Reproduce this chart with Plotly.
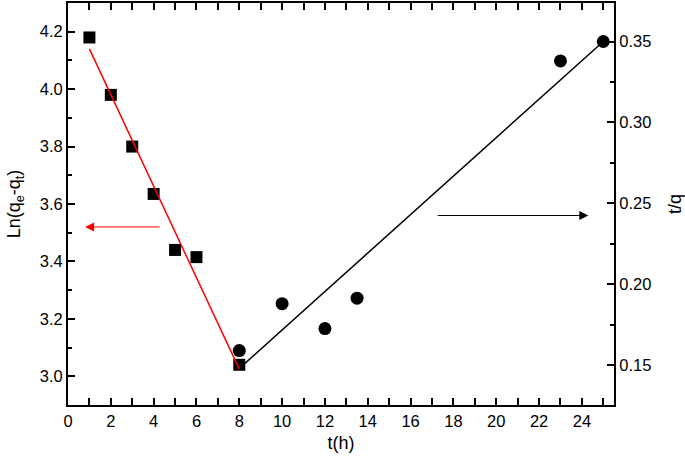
import plotly.graph_objects as go

# Pseudo-first-order data (left axis)
t_ln = [1, 2, 3, 4, 5, 6, 8]
ln_qe_qt = [4.18, 3.98, 3.80, 3.635, 3.44, 3.415, 3.04]
fit_ln_t = [1, 8]
fit_ln_y = [4.14, 3.025]

# Pseudo-second-order data (right axis)
t_q = [8, 10, 12, 13.5, 23, 25]
t_over_q = [0.159, 0.188, 0.1726, 0.1914, 0.338, 0.35]
fit_tq_t = [8, 25]
fit_tq_y = [0.148, 0.35]

FONT = "Liberation Sans, Arial, sans-serif"

fig = go.Figure()

fig.add_trace(go.Scatter(
    x=t_ln, y=ln_qe_qt, mode="markers",
    marker=dict(symbol="square", size=12, color="black"),
    showlegend=False,
))
fig.add_trace(go.Scatter(
    x=fit_ln_t, y=fit_ln_y, mode="lines",
    line=dict(color="red", width=1.5), showlegend=False,
))
fig.add_trace(go.Scatter(
    x=t_q, y=t_over_q, mode="markers", yaxis="y2",
    marker=dict(symbol="circle", size=13, color="black"),
    showlegend=False,
))
fig.add_trace(go.Scatter(
    x=fit_tq_t, y=fit_tq_y, mode="lines", yaxis="y2",
    line=dict(color="black", width=1.5), showlegend=False,
))

# arrows pointing to the relevant axis
fig.add_annotation(x=0.8, y=3.52, ax=4.35, ay=3.52, xref="x", yref="y",
                   axref="x", ayref="y", text="", showarrow=True,
                   arrowhead=2, arrowsize=1.8, arrowwidth=1, arrowcolor="red")
fig.add_annotation(x=24.3, y=3.56, ax=17.2, ay=3.56, xref="x", yref="y",
                   axref="x", ayref="y", text="", showarrow=True,
                   arrowhead=2, arrowsize=1.8, arrowwidth=1, arrowcolor="black")

axis_common = dict(
    showline=True, linecolor="black", linewidth=2,
    showgrid=False, zeroline=False, automargin=False,
    ticks="inside", ticklen=7, tickwidth=1.5, tickcolor="black",
    tickfont=dict(family=FONT, size=16.5, color="black"),
)

fig.update_layout(
    width=685, height=463,
    margin=dict(l=68, r=71, t=3, b=58),
    paper_bgcolor="white", plot_bgcolor="white",
    xaxis=dict(
        range=[0, 25.5], dtick=2, tick0=0, mirror="allticks",
        minor=dict(dtick=1, ticks="inside", ticklen=4, tickcolor="black"),
        title=dict(text="t(h)", font=dict(family=FONT, size=18, color="black"), standoff=8),
        **axis_common,
    ),
    yaxis=dict(
        range=[2.9, 4.3], dtick=0.2, tick0=3.0, tickformat=".1f",
        minor=dict(dtick=0.1, ticks="inside", ticklen=4, tickcolor="black"),
        title=dict(text="Ln(q<sub>e</sub>-q<sub>t</sub>)",
                   font=dict(family=FONT, size=18, color="black"), standoff=14),
        **axis_common,
    ),
    yaxis2=dict(
        range=[0.1254, 0.3738], dtick=0.05, tick0=0.15, tickformat=".2f",
        overlaying="y", side="right",
        minor=dict(dtick=0.025, ticks="inside", ticklen=4, tickcolor="black"),
        title=dict(text="t/q", font=dict(family=FONT, size=18, color="black"), standoff=18),
        **axis_common,
    ),
)

# drop the browser's default body margin so the figure fills the window
fig.write_html("out.html", config={"displayModeBar": False},
               post_script="document.body.style.margin='0';")
